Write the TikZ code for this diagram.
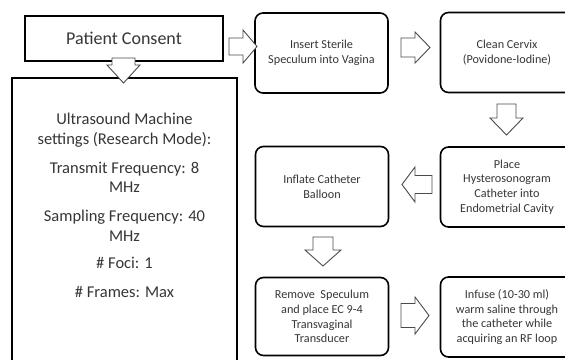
\documentclass[tikz,border=0pt]{standalone}
\usepackage{fontspec}
\setmainfont{Carlito}
\usetikzlibrary{shadows}
\definecolor{ink}{HTML}{363636}
\definecolor{arrowline}{HTML}{4A4A4A}
\begin{document}
\begin{tikzpicture}[x=1pt,y=-1pt,
  every node/.style={text=ink},
  plainbox/.style={draw=black, line width=1.6pt, fill=white, inner sep=0pt},
  stepbox/.style={plainbox, rounded corners=8pt, minimum width=133pt, minimum height=80pt,
    align=center, font=\fontsize{12.2}{14.8}\selectfont},
  arrowoutline/.style={draw=arrowline, fill=white, line width=0.9pt, line join=miter},
  % block arrow pointing east: length, head width, shaft width, head length
  pics/barrow/.style n args={4}{code={
    \draw[arrowoutline] ({-#1/2},{-#3/2}) -- ({#1/2-#4},{-#3/2}) -- ({#1/2-#4},{-#2/2})
      -- ({#1/2},0) -- ({#1/2-#4},{#2/2}) -- ({#1/2-#4},{#3/2}) -- ({-#1/2},{#3/2}) -- cycle;
  }}
]
\useasboundingbox (0,0) rectangle (565,359);

% settings panel (runs past the lower edge)
\node[plainbox, minimum width=225pt, minimum height=300pt, anchor=north] (us) at (124.5,77) {};
\node[align=center, font=\fontsize{16.5}{19.5}\selectfont, anchor=north] (ustext) at (124.5,110)
  {Ultrasound Machine\\settings (Research Mode):\\[9.5pt]
   Transmit Frequency: 8\\MHz\\[9.5pt]
   Sampling Frequency: 40\\MHz\\[8pt]
   \# Foci: 1\\[9.5pt]
   \# Frames: Max};

% consent box
\node[plainbox, minimum width=198pt, minimum height=45pt,
      drop shadow={shadow xshift=1.2pt, shadow yshift=-1.2pt, fill=black, opacity=0.8},
      font=\fontsize{18}{21}\selectfont] (pc) at (124,38.5) {Patient Consent};

% procedure steps
\node[stepbox] (ins) at (321.5,53)   {Insert Sterile\\Speculum into Vagina};
\node[stepbox] (cln) at (507,52.5)   {Clean Cervix\\(Povidone-Iodine)};
\node[stepbox] (plc) at (507,187)    {Place\\Hysterosonogram\\Catheter into\\Endometrial Cavity};
\node[stepbox] (inf) at (322,186.5)  {Inflate Catheter\\Balloon};
\node[stepbox, minimum height=78pt] (rem) at (322,316.5) {Remove\ \ Speculum\\and place EC 9-4\\Transvaginal\\Transducer};
\node[stepbox] (fus) at (507,317)    {Infuse (10-30 ml)\\warm saline through\\the catheter while\\acquiring an RF loop};

% block arrows between the steps
\pic[rotate=-90] (a0) at (123.5,70.5)  {barrow={25}{33}{23}{18}};
\pic             (a1) at (243,46.5)    {barrow={28}{33}{17}{14}};
\pic             (a2) at (415.5,47.5)  {barrow={29}{31}{19}{15}};
\pic[rotate=-90] (a3) at (506.5,119.5) {barrow={31}{33}{19}{17}};
\pic[rotate=180] (a4) at (417,184.5)   {barrow={30}{35}{18}{13}};
\pic[rotate=-90] (a5) at (323,251.5)   {barrow={29}{36}{20}{16}};
\pic             (a6) at (415,315.5)   {barrow={28}{37}{24}{14}};
\end{tikzpicture}
\end{document}
